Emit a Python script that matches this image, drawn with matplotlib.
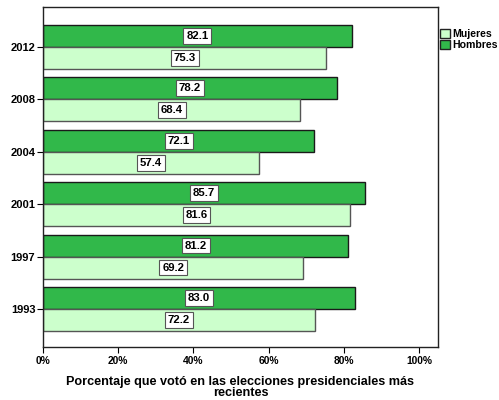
import matplotlib
matplotlib.use("Agg")
import matplotlib.pyplot as plt
import numpy as np
from matplotlib.patches import Patch

years = ["1993", "1997", "2001", "2004", "2008", "2012"]
hombres = [83.0, 81.2, 85.7, 72.1, 78.2, 82.1]
mujeres = [72.2, 69.2, 81.6, 57.4, 68.4, 75.3]
xticks = [0, 20, 40, 60, 80, 100]
xticklabels = ["0%", "20%", "40%", "60%", "80%", "100%"]

plt.rcParams['font.family'] = ['Liberation Sans', 'DejaVu Sans']
plt.rcParams['font.weight'] = 'bold'

fig = plt.figure(figsize=(4.99, 4.0), dpi=100)
ax = fig.add_axes([43/499, 53/400, (438-43)/499, (347-7)/400])

c_h = "#31b84a"
c_m = "#ccffcc"
h = 0.42
y = np.arange(len(years))
ax.barh(y + h/2, hombres, height=h, color=c_h, edgecolor="#1a1a1a", linewidth=1.0)
ax.barh(y - h/2, mujeres, height=h, color=c_m, edgecolor="#555555", linewidth=1.0)

box = dict(boxstyle="square,pad=0.25", facecolor="white", edgecolor="#555555", linewidth=0.8)
for i in range(len(years)):
    ax.text(hombres[i]/2, y[i] + h/2, f"{hombres[i]:.1f}", ha="center", va="center",
            fontsize=8.2, fontweight="bold", bbox=box)
    ax.text(mujeres[i]/2, y[i] - h/2, f"{mujeres[i]:.1f}", ha="center", va="center",
            fontsize=8.2, fontweight="bold", bbox=box)

ax.set_xlim(0, 105)
ax.set_ylim(-0.725, 5.76)
ax.set_yticks(y)
ax.set_yticklabels(years, fontsize=8, fontweight="bold")
ax.set_xticks(xticks)
ax.set_xticklabels(xticklabels, fontsize=7.4, fontweight="bold")
ax.tick_params(axis="both", length=4.5, width=0.8, pad=2)
ax.tick_params(axis="y", pad=1)
for s in ax.spines.values():
    s.set_linewidth(1.0)
    s.set_color("#222222")

ax.set_xlabel("Porcentaje que votó en las elecciones presidenciales más\nrecientes",
              fontsize=9.1, fontweight="bold", linespacing=0.95, labelpad=7)

handles = [Patch(facecolor=c_m, edgecolor="#222222", label="Mujeres"),
           Patch(facecolor=c_h, edgecolor="#222222", label="Hombres")]
leg = fig.legend(handles=handles, loc="upper left", bbox_to_anchor=(440/499, 1 - 29/400),
                 frameon=False, fontsize=7.6, handlelength=0.95, handleheight=0.9,
                 handletextpad=0.2, labelspacing=0.12, borderaxespad=0, borderpad=0)
for t in leg.get_texts():
    t.set_fontweight("bold")

fig.savefig("out.png", dpi=100)
